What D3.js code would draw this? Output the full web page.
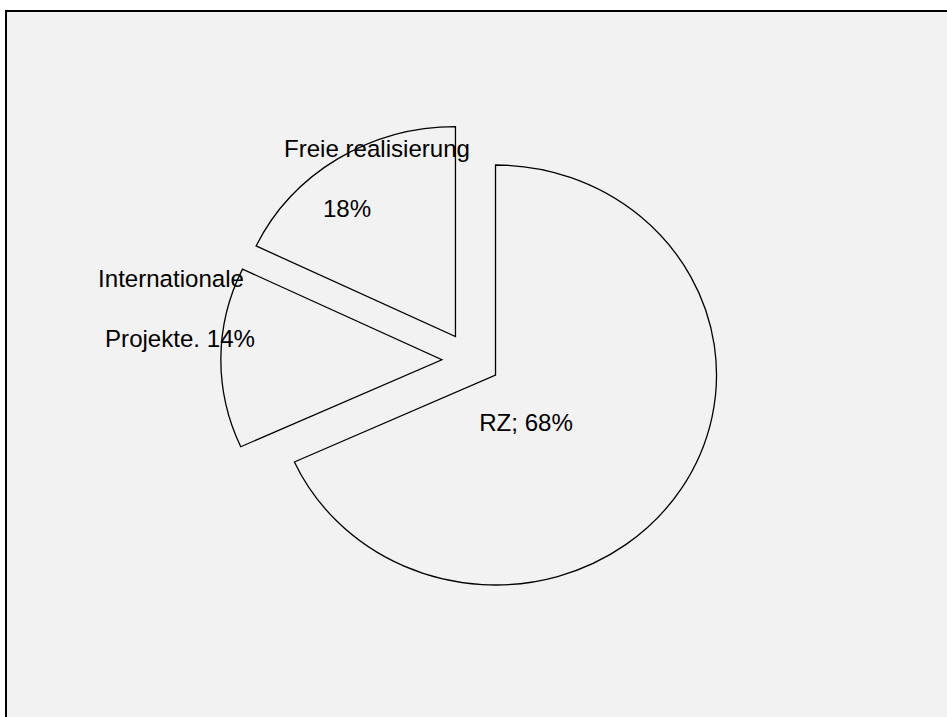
<!DOCTYPE html>
<html>
<head>
<meta charset="utf-8">
<script src="https://cdn.jsdelivr.net/npm/d3@7"></script>
<style>
body {
	margin: 0;
	background: #ffffff;
}
</style>
</head>
<body>
<div id="chart"></div>
<script>
// ---DATA---//

var categories = [ "RZ", "Internationale Projekte", "Freie realisierung" ];
var shares = [ 68.2, 13.9, 17.9 ];
var labelLines = [ [ "RZ; 68%" ], [ "Internationale", "Projekte. 14%" ],
		[ "Freie realisierung", "18%" ] ];

// ---LAYOUT---//

var width = 947;
var height = 717;

var center = {
	x : 471,
	y : 360
};
var radiusX = 221;
var radiusY = 210;
var explode = 27.7;
var fontSize = 23.5;
var textStretch = 1.025;
var lineGap = 60;

// label anchors (first line baseline, text centre)
var labelAnchors = [ {
	x : 526,
	y : 431
}, {
	x : 171,
	y : 287
}, {
	x : 377,
	y : 157
} ];
var labelLineX = [ [ 0 ], [ 0, 9 ], [ 0, -30 ] ];

// ---CHART---//

var svg = d3.select("#chart").append("svg").attr("width", width).attr(
		"height", height);

// frame, right and bottom edges run out of the picture
svg.append("rect") //
.attr("x", 6) //
.attr("y", 11) //
.attr("width", width + 20) //
.attr("height", height + 20) //
.attr("fill", "#f2f2f2") //
.attr("stroke", "#000") //
.attr("stroke-width", 2);

var pie = d3.pie().sort(null).value(function(d) {
	return d;
});

var arc = d3.arc().innerRadius(0).outerRadius(radiusY);

var pieLayer = svg.append("g").attr("class", "pieLayer").attr(
		"transform",
		"translate(" + center.x + "," + center.y + ") scale("
				+ (radiusX / radiusY) + ",1)");

pieLayer.selectAll(".slice").data(pie(shares)).enter().append("path") //
.attr("class", "slice") //
.attr("d", arc) //
.attr("transform", function(d) {

	var mid = (d.startAngle + d.endAngle) / 2;
	var dx = Math.sin(mid) * explode;
	var dy = -Math.cos(mid) * explode;
	return "translate(" + dx + "," + dy + ")";

}) //
.attr("fill", "#f2f2f2") //
.attr("stroke", "#000") //
.attr("stroke-width", 1.3) //
.attr("stroke-linejoin", "miter") //
.attr("vector-effect", "non-scaling-stroke");

// ---LABELS---//

var labelLayer = svg.append("g").attr("class", "labelLayer");

labelLines.forEach(function(lines, i) {

	var anchor = labelAnchors[i];

	lines.forEach(function(line, j) {

		var x = anchor.x + labelLineX[i][j];
		var y = anchor.y + j * lineGap;

		labelLayer.append("text") //
		.attr("transform", "translate(" + x + "," + y + ") scale("
				+ textStretch + ",1)") //
		.attr("text-anchor", "middle") //
		.attr("font-family", "'Liberation Sans', Arial, sans-serif") //
		.attr("font-size", fontSize) //
		.attr("fill", "#000") //
		.text(line);

	});// END: j loop

});// END: i loop
</script>
</body>
</html>
